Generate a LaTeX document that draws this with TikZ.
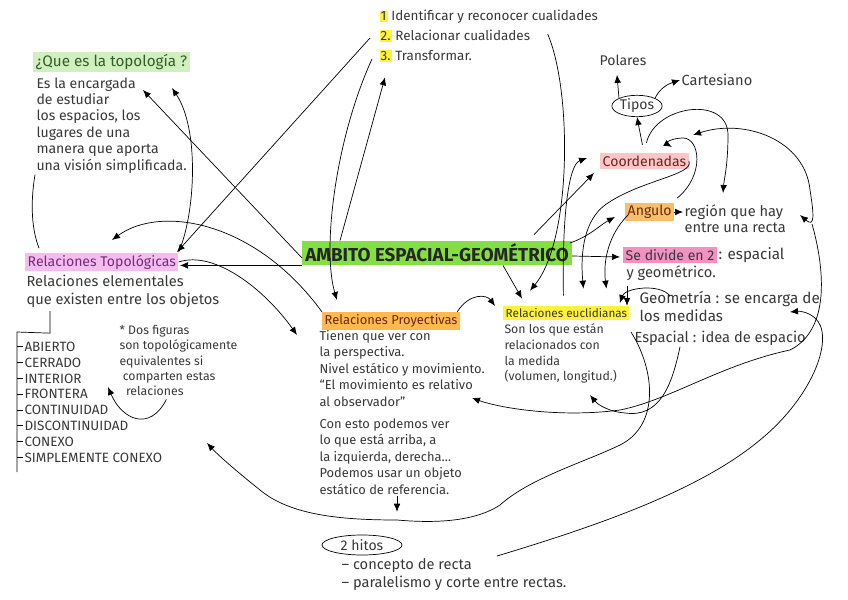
\documentclass[tikz,border=0pt]{standalone}
\usepackage{fontspec}
\setmainfont{Fira Sans}
\usepackage{tikz}
\usetikzlibrary{arrows.meta}
\usetikzlibrary{calc}
\usetikzlibrary{shapes.geometric}
\usetikzlibrary{positioning}

\definecolor{qgreen}{HTML}{D2EFBE}
\definecolor{qtext}{HTML}{2F5E2F}
\definecolor{ambgreen}{HTML}{86DE45}
\definecolor{topopink}{HTML}{F3BDF0}
\definecolor{topotext}{HTML}{7A2A7A}
\definecolor{proyorange}{HTML}{FFB94F}
\definecolor{proytext}{HTML}{6B2A10}
\definecolor{euclyellow}{HTML}{FFF23C}
\definecolor{coordpink}{HTML}{F8C7C7}
\definecolor{coordtext}{HTML}{7A2020}
\definecolor{angorange}{HTML}{F7BE6C}
\definecolor{divpink}{HTML}{F291C2}
\definecolor{numyellow}{HTML}{FFF23C}

\newcommand{\numhl}[1]{{\setlength{\fboxsep}{1pt}\colorbox{numyellow}{#1}}}

\begin{document}
\begin{tikzpicture}[
x=0.03cm, y=-0.03cm,
every node/.style={inner sep=1pt, text=black!78, font=\fontsize{12}{14}\selectfont},
every path/.style={line width=0.6pt},
>={Latex[length=2.4mm,width=2mm]},
hand/.style={anchor=north west, align=left},
hlbox/.style={anchor=west, inner sep=2pt},
itemtxt/.style={anchor=west, font=\fontsize{11.5}{13}\selectfont}
]
\useasboundingbox (0,0) rectangle (848,600);

% ---- topologia
\node[hlbox, fill=qgreen, text=qtext, font=\fontsize{13}{15}\selectfont] (quees) at (33,62) {¿Que es la topología ?};
\node[hand] (quedef) at (35,76) {Es la encargada\\de estudiar\\los espacios, los\\lugares de una\\manera que aporta\\una visión simplificada.};

% ---- pasos
\node[anchor=west, font=\fontsize{11.5}{13}\selectfont] (paso1) at (378,17) {\numhl{1} Identificar y reconocer cualidades};
\node[anchor=west, font=\fontsize{11.5}{13}\selectfont] (paso2) at (378,36) {\numhl{2.} Relacionar cualidades};
\node[anchor=west, font=\fontsize{11.5}{13}\selectfont] (paso3) at (378,56) {\numhl{3.} Transformar.};

% ---- coordenadas
\node[anchor=west] (polares) at (598,60) {Polares};
\node[anchor=west, font=\fontsize{12.5}{14}\selectfont] (cart) at (680,80) {Cartesiano};
\node[draw, ellipse, inner sep=0.5pt, minimum width=50*0.03cm] (tipos) at (637,106) {Tipos};
\node[hlbox, fill=coordpink, text=coordtext] (coord) at (600,161) {Coordenadas};
\node[hlbox, fill=angorange, text=proytext] (angulo) at (625,212) {Angulo};
\node[hand, font=\fontsize{12.5}{14}\selectfont] (region) at (683,203) {región que hay\\entre una recta};

% ---- centro
\node[fill=ambgreen, inner sep=2.5pt, text=black!85, font=\fontsize{16}{18}\selectfont\bfseries] (ambito) at (437,253) {AMBITO ESPACIAL-GEOMÉTRICO};

\node[hlbox, fill=divpink] (divlab) at (623,255) {Se divide en 2};
\node[right=0pt of divlab, font=\fontsize{13}{15}\selectfont] (divrest) {: espacial};
\node[hand, font=\fontsize{12.5}{14}\selectfont] (divl2) at (625,264) {y geométrico.};
\node[hand, font=\fontsize{13}{15}\selectfont] (geom) at (638,290) {Geometría : se encarga de\\los medidas};
\node[anchor=west, font=\fontsize{12.5}{14}\selectfont] (esp) at (633,338) {Espacial : idea de espacio};

% ---- relaciones topologicas
\node[hlbox, fill=topopink, text=topotext] (topo) at (25,262) {Relaciones Topológicas};
\node[hand, font=\fontsize{12.5}{15}\selectfont] (topobody) at (25,274) {Relaciones elementales\\que existen entre los objetos};
\foreach \txt [count=\i] in {ABIERTO, CERRADO, INTERIOR, FRONTERA, CONTINUIDAD, DISCONTINUIDAD, CONEXO, SIMPLEMENTE CONEXO}
  \node[itemtxt] (it\i) at (23,{331+15.8*\i}) {\txt};
\node[hand, font=\fontsize{10.5}{13}\selectfont] (nota) at (118,324) {* Dos figuras\\son topológicamente\\equivalentes si\\\ comparten estas\\\ \ relaciones};

% ---- proyectivas / euclidianas
\node[hlbox, fill=proyorange, text=proytext, font=\fontsize{11}{13}\selectfont] (proy) at (322,321) {Relaciones Proyectivas};
\node[hand, font=\fontsize{11}{14}\selectfont] (proybody) at (318,329) {Tienen que ver con\\la perspectiva.\\Nivel estático y movimiento.\\“El movimiento es relativo\\al observador”\\[5pt]Con esto podemos ver\\lo que está arriba, a\\la izquierda, derecha\dots\\Podemos usar un objeto\\estático de referencia.};
\node[hlbox, fill=euclyellow, font=\fontsize{10}{12}\selectfont] (eucl) at (503,313) {Relaciones euclidianas};
\node[hand, font=\fontsize{10.5}{13.5}\selectfont] (euclbody) at (503,322) {Son los que están\\relacionados con\\la medida\\(volumen, longitud.)};

% ---- hitos
\node[draw, ellipse, inner sep=0.5pt, minimum width=80*0.03cm, minimum height=20*0.03cm] (hitos) at (362,545) {2 hitos};
\node[hand, font=\fontsize{12.5}{15}\selectfont] (hitlist) at (340,557) {– concepto de recta\\– paralelismo y corte entre rectas.};

% free ends
\coordinate (qa) at (143,90);
\coordinate (qb) at (172,88);
\coordinate (ta) at (177,252);
\coordinate (tb) at (112,240);
\coordinate (pa) at (297,335);
\coordinate (pb) at (337,300);
\coordinate (pc) at (472,398);
\coordinate (sa) at (207,443);
\coordinate (la) at (108,387);
\coordinate (ea) at (590,395);
\coordinate (ca) at (693,135);
\coordinate (rb) at (800,215);
\coordinate (hook) at (812,224);
\coordinate (ga) at (790,312);
\coordinate (ha) at (497,556);

% bracket of the list
\draw ($(topobody.south west)+(25,2)$) -- ++(0,22) -- (17,332) -- (17,472);
\foreach \i in {1,...,8}
  \draw (it\i.west) -- ++(-6,0);

% connectors
\draw[->] ($(ambito.west)+(0,5)$) -- (qa);
\draw[->] (topo.north east) .. controls (195,215) and (200,130) .. (qb);
\draw (quedef.south west) .. controls (30,205) and (32,230) .. ($(topo.north west)+(14,-4)$);
\draw[->] ($(paso2.west)+(-8,2)$) -- (ta);
\draw[->] (ambito.south west) -- ++(-122,0);
\draw[->] (topo.east) .. controls (215,250) and (265,290) .. (pa);
\draw[->] (proy.north west) .. controls (255,220) and (160,205) .. (tb);
\draw[->] ($(paso3.west)+(-6,3)$) .. controls (335,140) and (322,250) .. (pb);
\draw[->] ($(ambito.north west)+(38,0)$) -- ($(paso3.south west)+(7,14)$);
\draw[->] ($(paso2.east)+(16,-2)$) .. controls (572,90) and (572,240) .. ($(eucl.north west)+(27,-15)$);
\draw[->] ($(ambito.south)+(66,0)$) -- ($(eucl.north west)+(19,-7)$);
\draw[->] ($(eucl.north)+(-3,-10)$) .. controls (562,220) and (568,165) .. ($(coord.west)+(-13,-3)$);
\draw[->] ($(ambito.north east)+(-38,-6)$) -- ($(coord.west)+(-6,12)$);
\draw[->] ($(ambito.east)+(-2,-10)$) .. controls (590,236) and (600,225) .. ($(angulo.west)+(-10,5)$);
\draw[->] ($(ambito.east)+(0,3)$) -- ($(divlab.west)+(-3,2)$);
\draw[->] (coord.east) .. controls (695,175) and (640,180) .. (605,205) .. controls (585,220) and (580,250) .. ($(eucl.north)+(17,-17)$);
\draw[->] ($(angulo.west)+(3,3)$) .. controls (608,235) and (603,262) .. ($(eucl.north)+(40,-17)$);
\draw[->] ($(angulo.east)+(3,-14)$) .. controls (705,175) and (700,138) .. (683,138) .. controls (672,138) and (665,143) .. ($(coord.north east)+(-17,-6)$);
\draw[->] ($(coord.north)+(2,-10)$) .. controls (655,105) and (728,95) .. (728,135) .. controls (728,165) and (724,180) .. ($(region.north west)+(40,-10)$);
\draw[->] ($(coord.north)+(-2,-8)$) -- (tipos.south);
\draw[->] (tipos.north west) -- ($(polares.south)+(-6,8)$);
\draw[->] (tipos.north east) .. controls (660,88) and (668,84) .. (cart.west);
\draw[->] (angulo.east) -- (angulo.east -| region.west);
\draw[->] ($(divl2.south west)+(2,4)$) -- ++(0,20);
\draw[->] ($(geom.north west)+(32,6)$) .. controls (660,283) and (625,288) .. ($(eucl.east)+(-10,-10)$);
\draw[->] ($(proy.north east)+(-3,0)$) .. controls (470,292) and (487,295) .. ($(eucl.west)+(-8,-7)$);
\draw[->] ($(esp.south west)+(47,0)$) .. controls (672,385) and (660,418) .. (625,413) .. controls (610,412) and (598,405) .. (ea);
\draw[<->] (ca) .. controls (745,118) and (805,140) .. (810,190) .. controls (814,215) and (815,228) .. (rb);
\draw[->] (hook) .. controls (825,270) and (830,330) .. (790,350) .. controls (720,365) and (670,400) .. (620,410) .. controls (560,418) and (500,408) .. (pc);
\draw[->] (ha) .. controls (600,525) and (700,490) .. (760,440) .. controls (815,395) and (835,335) .. (815,318) .. controls (808,312) and (800,311) .. (ga);
\draw[->] ($(esp.west)+(-2,-6)$) .. controls (655,370) and (660,425) .. (620,445) .. controls (585,462) and (530,478) .. (500,505) .. controls (470,525) and (420,522) .. (397,520) .. controls (340,520) and (290,515) .. (260,490) .. controls (235,470) and (218,455) .. (sa);
\draw[->] ($(proybody.south west)+(79,0)$) -- ++(0,16);
\draw[->] ($(nota.south)+(-12,2)$) .. controls (150,432) and (122,420) .. (la);
\end{tikzpicture}
\end{document}
